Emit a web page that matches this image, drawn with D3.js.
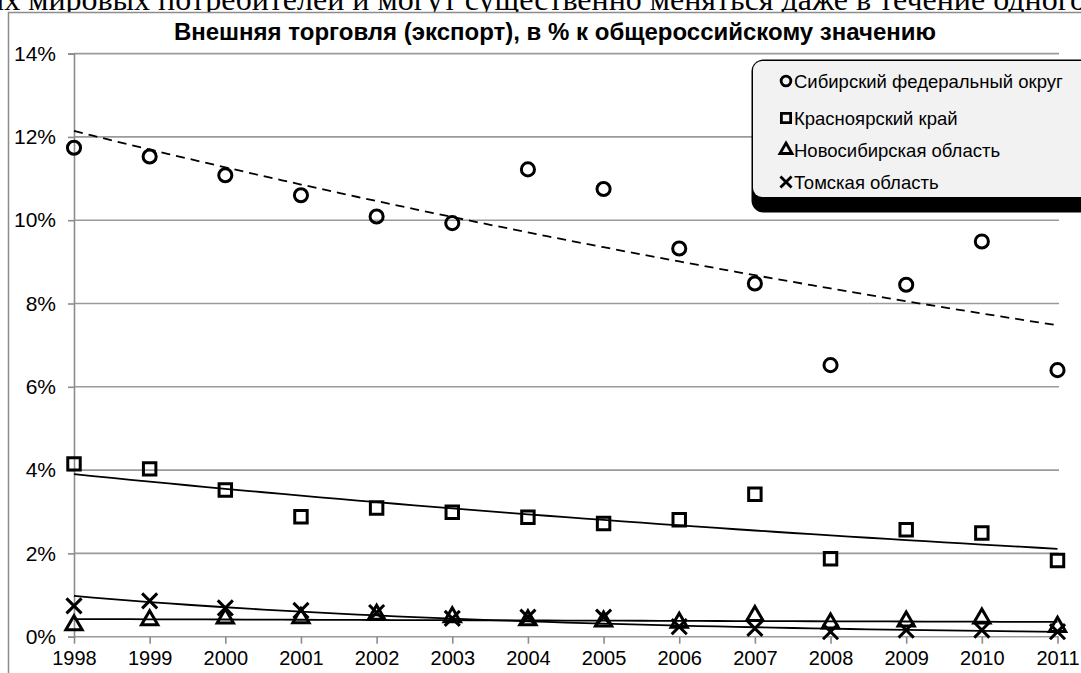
<!DOCTYPE html>
<html><head><meta charset="utf-8">
<script src="https://cdn.jsdelivr.net/npm/d3@7"></script>
<style>body{margin:0;background:#fff;overflow:hidden}svg{display:block}</style>
</head><body>
<svg id="c" width="1081" height="673"></svg>
<script>
const years = ["1998","1999","2000","2001","2002","2003","2004","2005","2006","2007","2008","2009","2010","2011"];
const sfo   = [11.74, 11.53, 11.08, 10.60, 10.09, 9.93, 11.22, 10.75, 9.32, 8.48, 6.52, 8.45, 9.49, 6.40];
const krsk  = [4.15, 4.03, 3.52, 2.88, 3.09, 2.99, 2.87, 2.72, 2.81, 3.42, 1.87, 2.57, 2.49, 1.83];
const nsk   = [0.28, 0.40, 0.44, 0.45, 0.53, 0.47, 0.40, 0.37, 0.34, 0.50, 0.32, 0.37, 0.44, 0.24];
const tomsk = [0.74, 0.86, 0.69, 0.63, 0.58, 0.44, 0.47, 0.47, 0.24, 0.20, 0.12, 0.16, 0.16, 0.12];
const seriesNames = ["Сибирский федеральный округ","Красноярский край","Новосибирская область","Томская область"];
const yTicks = [0,2,4,6,8,10,12,14];
const titleText = "Внешняя торговля (экспорт), в % к общероссийскому значению";
const topText = "их мировых потребителей и могут существенно меняться даже в течение одного года";

const svg = d3.select("#c");
const font = "'Liberation Sans', Arial, sans-serif";

// page text above the chart (cut off by the picture's edge)
svg.append("text").attr("x", -13).attr("y", 9.5).attr("font-family","'Liberation Serif','Times New Roman',serif")
  .attr("font-size", 32).attr("fill","#000").text(topText);

// chart frame
svg.append("rect").attr("x",8.5).attr("y",12.5).attr("width",1200).attr("height",800)
  .attr("fill","#fff").attr("stroke","#8c8c8c").attr("stroke-width",1.5);

const x = d3.scaleLinear().domain([0, years.length-1]).range([74, 1057.5]);
const y = d3.scaleLinear().domain([0, 14]).range([636.7, 53.6]);

// gridlines
svg.append("g").selectAll("line").data(yTicks).join("line")
  .attr("x1", x(0)).attr("x2", x(years.length-1)+1.5)
  .attr("y1", d=>y(d)).attr("y2", d=>y(d))
  .attr("stroke","#9a9a9a").attr("stroke-width",1.6);

// y axis
const yAxis = d3.axisLeft(y).tickValues(yTicks).tickFormat(d=>d+"%").tickSize(6).tickPadding(12);
const gy = svg.append("g").attr("transform",`translate(${x(0)},0)`).call(yAxis);
gy.select(".domain").attr("stroke","#8c8c8c").attr("stroke-width",1.6);
gy.selectAll(".tick line").attr("stroke","#8c8c8c").attr("stroke-width",1.6);
gy.selectAll("text").attr("font-family",font).attr("font-size",21).attr("fill","#000");

// x axis
const xAxis = d3.axisBottom(x).tickValues(d3.range(years.length)).tickFormat(i=>years[i]).tickSize(7).tickPadding(7);
const gx = svg.append("g").attr("transform",`translate(0,${y(0)})`).call(xAxis);
gx.select(".domain").remove();
gx.selectAll(".tick line").attr("stroke","#8c8c8c").attr("stroke-width",1.6);
gx.selectAll("text").attr("font-family",font).attr("font-size",20).attr("fill","#000");

// title
svg.append("text").attr("x",555).attr("y",40).attr("text-anchor","middle")
  .attr("font-family",font).attr("font-weight","bold").attr("font-size",24).text(titleText);

// exponential trend fit
function expFit(vals){
  const n = vals.length, t = d3.range(n), l = vals.map(Math.log);
  const mt = d3.mean(t), ml = d3.mean(l);
  let sxy=0, sxx=0;
  for(let i=0;i<n;i++){ sxy += (t[i]-mt)*(l[i]-ml); sxx += (t[i]-mt)**2; }
  const b = sxy/sxx, a = ml - b*mt;
  return tt => Math.exp(a + b*tt);
}
const all = [sfo, krsk, nsk, tomsk];
const dashes = ["9,6", null, null, null];
const line = d3.line().x(d=>x(d[0])).y(d=>y(d[1]));
all.forEach((vals, k) => {
  const f = expFit(vals);
  const pts = d3.range(0, years.length-1+0.001, 0.25).map(tt => [tt, f(tt)]);
  svg.append("path").attr("d", line(pts)).attr("fill","none").attr("stroke","#000")
    .attr("stroke-width",1.8).attr("stroke-dasharray", dashes[k]);
});

// markers
const symTypes = [d3.symbolCircle, d3.symbolSquare, d3.symbolTriangle, d3.symbolX];
const symSizes = [135, 155, 115, 150];
const symStroke = [3, 3, 3, 3];
all.forEach((vals, k) => {
  const sym = d3.symbol().type(symTypes[k]).size(symSizes[k]);
  svg.append("g").selectAll("path").data(vals).join("path")
    .attr("d", sym).attr("transform",(d,i)=>`translate(${x(i)},${y(d)})`)
    .attr("fill","none").attr("stroke","#000").attr("stroke-width",symStroke[k]).attr("stroke-linejoin","miter");
});

// legend
const lg = svg.append("g");
lg.append("rect").attr("x",751.5).attr("y",59.5).attr("width",400).attr("height",153).attr("rx",12)
  .attr("fill","#000");
lg.append("rect").attr("x",753).attr("y",61).attr("width",400).attr("height",136).attr("rx",9)
  .attr("fill","#f2f2f2");
const legY = [81, 118, 150, 182];
seriesNames.forEach((nm, k) => {
  const sym = d3.symbol().type(symTypes[k]).size(symSizes[k]*0.55);
  lg.append("path").attr("d", sym).attr("transform",`translate(${786},${legY[k]})`)
    .attr("fill","none").attr("stroke","#000").attr("stroke-width",2.8);
  lg.append("text").attr("x",794).attr("y",legY[k]+6.5).attr("font-family",font)
    .attr("font-size",18.5).attr("fill","#000").text(nm);
});
</script>
</body></html>
